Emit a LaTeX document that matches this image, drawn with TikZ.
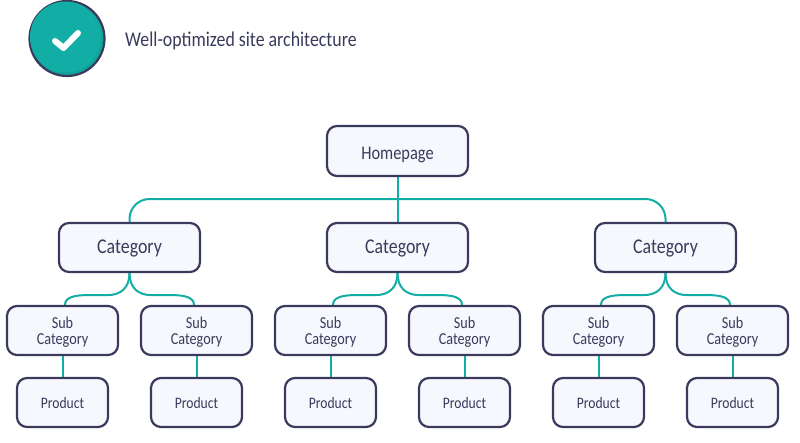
\documentclass[tikz,border=0pt]{standalone}
\usepackage{fontspec}
\setmainfont[FakeStretch=0.85]{Carlito}
\usetikzlibrary{backgrounds}
\definecolor{teal1}{HTML}{12ADA5}
\definecolor{teal2}{HTML}{10A39C}
\definecolor{ink}{HTML}{3A3B5C}
\definecolor{boxfill}{HTML}{F7F8FD}
\newcommand\lowered[2]{\raisebox{-#1}[0pt][0pt]{\begin{tabular}{@{}c@{}}#2\end{tabular}}}
\tikzset{
  x=1pt,y=-1pt,
  box/.style={draw=ink,line width=2.2pt,fill=boxfill,rounded corners=10pt,inner sep=0pt,text=ink,minimum height=49pt},
  homebox/.style={box,minimum width=141pt,minimum height=50pt,font=\fontsize{19.3}{22}\selectfont},
  catbox/.style={box,minimum width=141pt,font=\fontsize{21}{24}\selectfont},
  subbox/.style={box,minimum width=111pt,font=\fontsize{16.7}{16}\selectfont},
  prodbox/.style={box,minimum width=91pt,font=\fontsize{16}{18}\selectfont},
  link/.style={draw=teal1,line width=2pt},
}
\begin{document}
\begin{tikzpicture}
\useasboundingbox (0,0) rectangle (800,442);
% badge
\node[circle,draw=ink,line width=2.2pt,fill=teal2,minimum size=75pt,inner sep=0pt] (badge) at (67,38.5) {};
\fill[teal1] (65.5,37) circle (35.5pt);
\draw[white,line width=6pt,line cap=round,line join=round] (55,41) -- (63.5,48) -- (78,33);
\node[anchor=west,text=ink,font=\fontsize{21}{24}\selectfont,inner sep=0pt] (title) at (125,41) {Well-optimized site architecture};
% tree
\node[homebox] (home) at (397.5,151) {\lowered{9.5pt}{Homepage}};
\foreach \i/\cx in {1/129.5,2/397.5,3/665.5}{
  \node[catbox] (cat\i) at (\cx,247.5) {\lowered{6.5pt}{Category}};
  \node[subbox] (sub\i a) at (\cx-67,330.5) {\lowered{7pt}{Sub\\Category}};
  \node[subbox] (sub\i b) at (\cx+67,330.5) {\lowered{7pt}{Sub\\Category}};
  \node[prodbox] (prod\i a) at (\cx-67,402.5) {\lowered{6.3pt}{Product}};
  \node[prodbox] (prod\i b) at (\cx+67,402.5) {\lowered{6.3pt}{Product}};
}
\coordinate (bus) at (0,199);
\begin{pgfonlayer}{background}
  \draw[link] (home.south) -- (cat2.north);
  \draw[link,rounded corners=20pt] (cat1.north) |- (bus -| home.south) -| (cat3.north);
  \foreach \i in {1,2,3}{
    \draw[link] (cat\i.south) .. controls +(0,14) and +(14,0) .. ++(-22,22)
       -- ++(-20,0) .. controls +(-12,0) and +(0,-8) .. ([xshift=2.5pt]sub\i a.north);
    \draw[link] (cat\i.south) .. controls +(0,14) and +(-14,0) .. ++(22,22)
       -- ++(20,0) .. controls +(12,0) and +(0,-8) .. ([xshift=-2.5pt]sub\i b.north);
    \draw[link] (sub\i a.south) -- (prod\i a.north);
    \draw[link] (sub\i b.south) -- (prod\i b.north);
  }
\end{pgfonlayer}
\end{tikzpicture}
\end{document}
